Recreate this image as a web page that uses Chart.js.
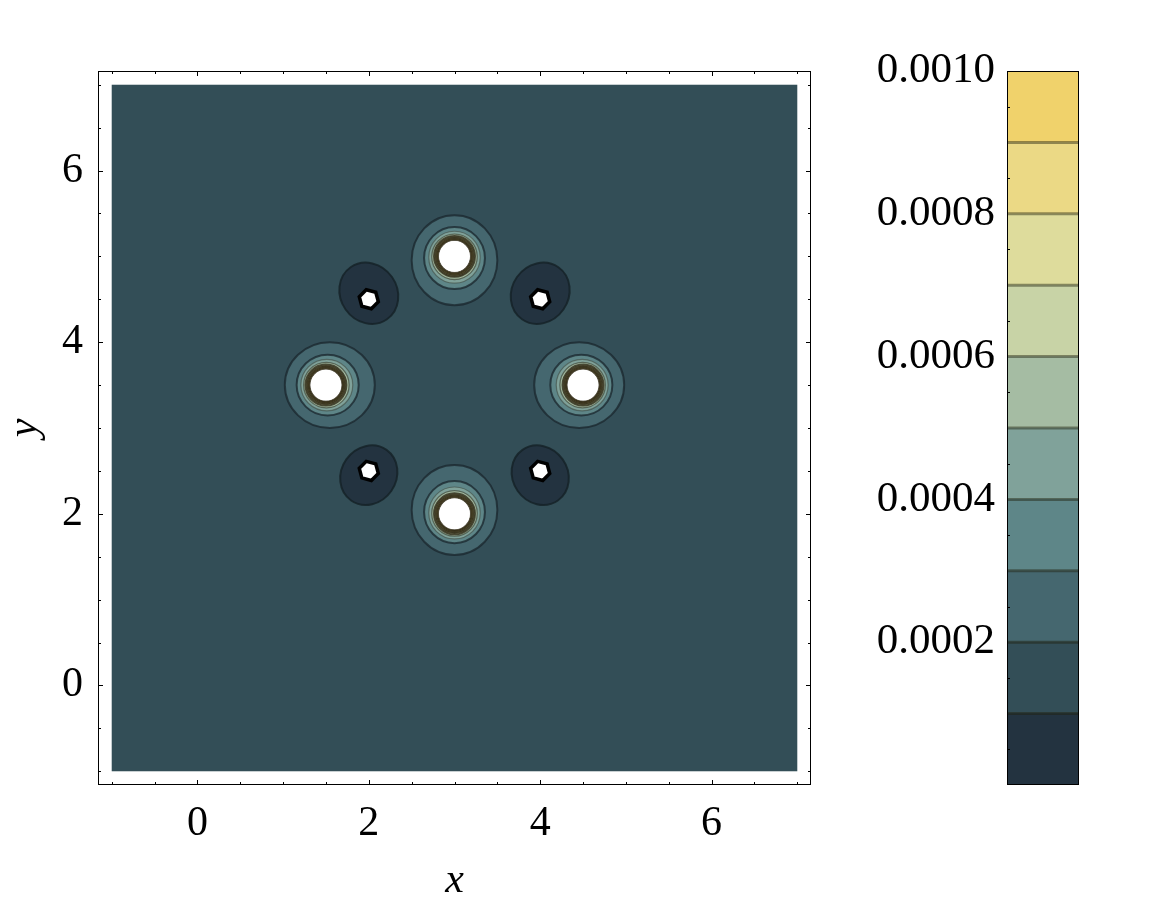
<!DOCTYPE html>
<html>
<head>
<meta charset="utf-8">
<script src="https://cdn.jsdelivr.net/npm/chart.js@4/dist/chart.umd.min.js"></script>
<style>
  body { margin: 0; background: #fff; }
  #wrap { position: relative; width: 1151px; height: 907px; }
  #plot { position: absolute; left: 0; top: 0; }
  #bar { position: absolute; left: 850px; top: 0; }
</style>
</head>
<body>
<div id="wrap">
  <canvas id="plot" width="850" height="907"></canvas>
  <canvas id="bar" width="301" height="907"></canvas>
</div>
<script>
// contour levels and the colour of each band (bottom -> top)
const levels = [0, 0.0001, 0.0002, 0.0003, 0.0004, 0.0005, 0.0006, 0.0007, 0.0008, 0.0009, 0.0010];
const bandColors = ['#233340', '#334e57', '#45676f', '#5e8688', '#80a29a', '#a5bca3',
                    '#c8d3a6', '#dedc9c', '#ebd985', '#f0d26b'];
const cbTicks = [0.0002, 0.0004, 0.0006, 0.0008, 0.0010];

// axes
const axisMin = -1.16, axisMax = 7.16;
const fieldMin = -1, fieldMax = 7;
const xTicks = [0, 2, 4, 6];
const yTicks = [0, 2, 4, 6];

// the four peaks (white holes) and the ring centre they lean toward
const peakX = [3, 1.5, 4.5, 3];
const peakY = [5, 3.5, 3.5, 2];
const ringCx = 3, ringCy = 3.5;
// radius of the contour around a peak for levels 0.0002 .. 0.0010
const peakR = [0.50, 0.355, 0.30, 0.265, 0.24, 0.225, 0.212, 0.2, 0.19];
const peakShift = [0.045, 0.02, 0.01, 0.005, 0, 0, 0, 0, 0];
const peakStretch = [1.05, 1.02, 1.01, 1, 1, 1, 1, 1, 1];

// the four dips (level 0.0001 contour + clipped core)
const dipX = [2, 4, 2, 4];
const dipY = [4.5, 4.5, 2.5, 2.5];
const dipOffY = [0.07, 0.07, -0.05, -0.05];
const dipRx = [0.37, 0.37, 0.36, 0.36];
const dipRy = [0.33, 0.33, 0.32, 0.32];
const dipTilt = [55, -55, -55, 55];
const coreR = 0.115;

const serif = '"Liberation Serif", "Times New Roman", serif';

function ellipse(ctx, x, y, rx, ry, rot, fill, stroke, lw) {
  ctx.beginPath();
  ctx.ellipse(x, y, rx, ry, rot, 0, Math.PI * 2);
  if (fill) { ctx.fillStyle = fill; ctx.fill(); }
  if (stroke) { ctx.strokeStyle = stroke; ctx.lineWidth = lw; ctx.stroke(); }
}

const contourPlugin = {
  id: 'contour',
  beforeDatasetsDraw(chart) {
    const ctx = chart.ctx;
    const xs = chart.scales.x, ys = chart.scales.y;
    const px = v => xs.getPixelForValue(v);
    const py = v => ys.getPixelForValue(v);
    const ux = px(1) - px(0), uy = py(0) - py(1);
    ctx.save();

    // base band
    ctx.fillStyle = bandColors[1];
    ctx.fillRect(px(fieldMin), py(fieldMax), px(fieldMax) - px(fieldMin), py(fieldMin) - py(fieldMax));

    // dips
    for (let i = 0; i < dipX.length; i++) {
      ellipse(ctx, px(dipX[i]), py(dipY[i] + dipOffY[i]), dipRx[i] * ux, dipRy[i] * uy,
        dipTilt[i] * Math.PI / 180, bandColors[0], 'rgba(20,32,38,0.8)', 2);
      // clipped core
      ctx.beginPath();
      for (let k = 0; k < 6; k++) {
        const a = (k * 60 + 15) * Math.PI / 180;
        const x = px(dipX[i]) + Math.cos(a) * coreR * ux;
        const y = py(dipY[i]) + Math.sin(a) * coreR * uy;
        if (k === 0) ctx.moveTo(x, y); else ctx.lineTo(x, y);
      }
      ctx.closePath();
      ctx.fillStyle = '#fff';
      ctx.fill();
      ctx.strokeStyle = '#000';
      ctx.lineWidth = 3.5;
      ctx.lineJoin = 'miter';
      ctx.stroke();
    }

    // peaks
    for (let i = 0; i < peakX.length; i++) {
      const dx = ringCx - peakX[i], dy = ringCy - peakY[i];
      const len = Math.hypot(dx, dy);
      const rot = Math.atan2(-dy * uy, dx * ux);
      for (let l = 0; l < peakR.length; l++) {
        const cx = peakX[i] + dx / len * peakShift[l];
        const cy = peakY[i] + dy / len * peakShift[l];
        const fill = l + 2 < bandColors.length ? bandColors[l + 2] : '#fff';
        let stroke = 'rgba(25,38,44,0.75)', lw = 2;
        if (l === 2) { stroke = 'rgba(60,70,60,0.55)'; lw = 1.2; }
        if (l === 3) { stroke = 'rgba(50,55,40,0.6)'; lw = 1.3; }
        if (l > 3) { stroke = 'rgba(45,40,22,0.8)'; lw = 1.8; }
        ellipse(ctx, px(cx), py(cy), peakR[l] * peakStretch[l] * ux, peakR[l] * ux, rot,
          fill, stroke, lw);
      }
      // clipped centre
      const last = peakR.length - 1;
      ellipse(ctx, px(peakX[i]), py(peakY[i]), peakR[last] * ux - 1, peakR[last] * ux - 1, 0, '#fff');
    }
    ctx.restore();
  },
  afterDraw(chart) {
    const ctx = chart.ctx;
    const a = chart.chartArea;
    const xs = chart.scales.x, ys = chart.scales.y;
    ctx.save();
    ctx.strokeStyle = '#000';
    ctx.lineWidth = 1;
    ctx.strokeRect(a.left + 0.5, a.top + 0.5, a.right - a.left - 1, a.bottom - a.top - 1);
    ctx.beginPath();
    for (let v = -1; v <= 7; v += 0.5) {
      const major = xTicks.includes(v);
      const len = major ? 5 : 3;
      const x = Math.round(xs.getPixelForValue(v)) + 0.5;
      ctx.moveTo(x, a.bottom); ctx.lineTo(x, a.bottom - len);
      ctx.moveTo(x, a.top); ctx.lineTo(x, a.top + len);
      const y = Math.round(ys.getPixelForValue(v)) + 0.5;
      ctx.moveTo(a.left, y); ctx.lineTo(a.left + len, y);
      ctx.moveTo(a.right, y); ctx.lineTo(a.right - len, y);
    }
    ctx.stroke();
    ctx.restore();
  }
};

new Chart(document.getElementById('plot'), {
  type: 'scatter',
  data: { datasets: [] },
  options: {
    responsive: false,
    animation: false,
    layout: { padding: { top: 71, right: 39, left: 0, bottom: 0 } },
    plugins: { legend: { display: false }, tooltip: { enabled: false } },
    scales: {
      x: {
        type: 'linear', min: axisMin, max: axisMax,
        afterBuildTicks: s => { s.ticks = xTicks.map(v => ({ value: v })); },
        afterFit: s => { s.height = 122; },
        grid: { drawOnChartArea: false, drawTicks: false },
        border: { display: false },
        ticks: { color: '#000', font: { family: serif, size: 42 }, padding: 14, maxRotation: 0 },
        title: { display: true, text: 'x', color: '#000', font: { family: serif, size: 42, style: 'italic' },
                 padding: { top: 0, bottom: 1 } }
      },
      y: {
        type: 'linear', min: axisMin, max: axisMax,
        afterBuildTicks: s => { s.ticks = yTicks.map(v => ({ value: v })); },
        afterFit: s => { s.width = 98; },
        grid: { drawOnChartArea: false, drawTicks: false },
        border: { display: false },
        ticks: { color: '#000', font: { family: serif, size: 42 }, padding: 15 },
        title: { display: true, text: 'y', color: '#000', font: { family: serif, size: 42, style: 'italic' },
                 padding: { top: 0, bottom: 2 } }
      }
    }
  },
  plugins: [contourPlugin]
});

// colour bar
const barPlugin = {
  id: 'barFrame',
  afterDatasetsDraw(chart) {
    const ctx = chart.ctx;
    const a = chart.chartArea;
    const ys = chart.scales.y;
    ctx.save();
    ctx.strokeStyle = 'rgba(30,30,10,0.45)';
    ctx.lineWidth = 3;
    for (let i = 1; i < levels.length - 1; i++) {
      const y = ys.getPixelForValue(levels[i]);
      ctx.beginPath(); ctx.moveTo(a.left, y); ctx.lineTo(a.right, y); ctx.stroke();
    }
    ctx.strokeStyle = '#000';
    ctx.lineWidth = 1;
    ctx.beginPath();
    for (let v = 0.00005; v < 0.001; v += 0.0001) {
      const y = Math.round(ys.getPixelForValue(v)) + 0.5;
      ctx.moveTo(a.left, y); ctx.lineTo(a.left + 3, y);
    }
    ctx.stroke();
    ctx.strokeRect(a.left + 0.5, a.top + 0.5, a.right - a.left - 1, a.bottom - a.top - 1);
    ctx.restore();
  }
};

new Chart(document.getElementById('bar'), {
  type: 'bar',
  data: {
    labels: [''],
    datasets: bandColors.map((c, i) => ({
      data: [levels[i + 1] - levels[i]],
      backgroundColor: c,
      borderWidth: 0,
      barPercentage: 1,
      categoryPercentage: 1
    }))
  },
  options: {
    responsive: false,
    animation: false,
    layout: { padding: { top: 71, right: 72, left: 0, bottom: 122 } },
    plugins: { legend: { display: false }, tooltip: { enabled: false } },
    scales: {
      x: { stacked: true, display: false },
      y: {
        stacked: true, min: 0, max: 0.001, position: 'left',
        afterBuildTicks: s => { s.ticks = cbTicks.map(v => ({ value: v })); },
        afterFit: s => { s.width = 157; },
        grid: { drawOnChartArea: false, drawTicks: false },
        border: { display: false },
        ticks: { color: '#000', font: { family: serif, size: 43 }, padding: 12,
                 callback: v => v.toFixed(4) }
      }
    }
  },
  plugins: [barPlugin]
});
</script>
</body>
</html>
